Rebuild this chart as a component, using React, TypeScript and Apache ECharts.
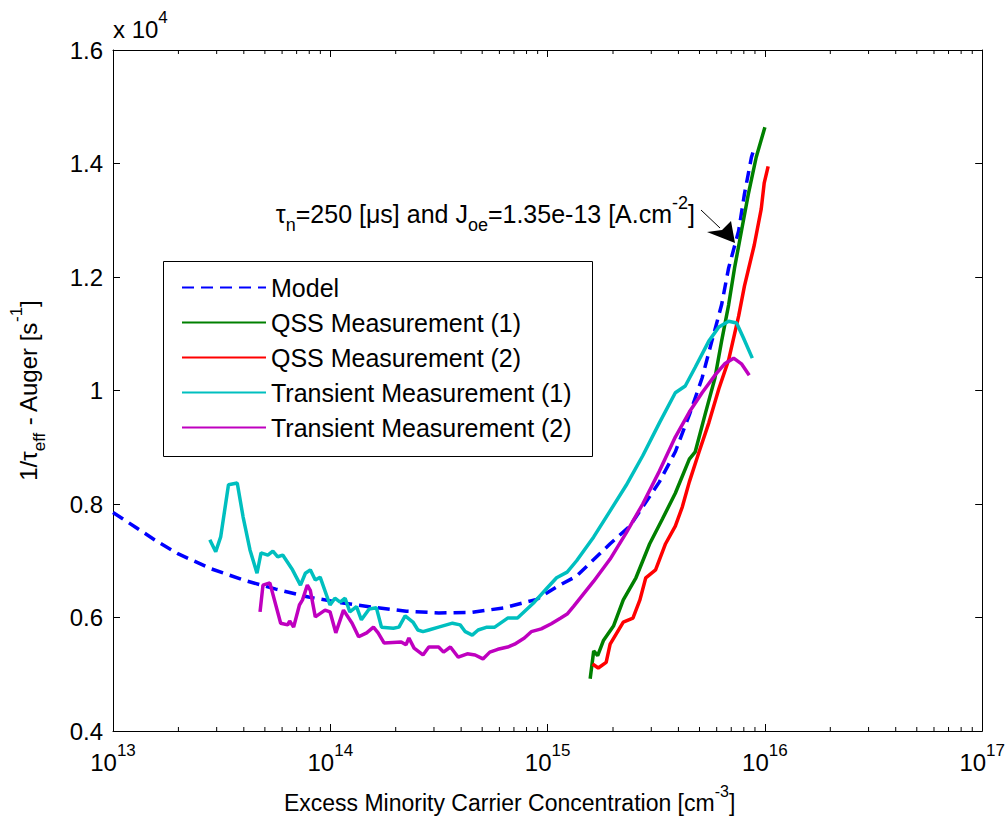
import React, { useEffect, useRef } from "react";
import * as echarts from "echarts";

const FONT = "'Liberation Sans', Arial, Helvetica, sans-serif";

// Excess minority carrier concentration [cm^-3] and 1/tau_eff - Auger [s^-1]
const modelN = [1.0e13, 1.26e13, 1.58e13, 2.0e13, 2.82e13, 3.98e13, 5.62e13, 7.94e13, 1.12e14, 1.58e14, 2.24e14, 3.16e14, 4.47e14, 6.31e14, 8.91e14, 1.1e15, 1.36e15, 1.94e15, 2.39e15, 2.74e15, 3.27e15, 3.87e15, 4.49e15, 5.14e15, 5.7e15, 6.32e15, 6.81e15, 7.57e15, 8.05e15, 8.67e15, 8.93e15];
const modelR = [7850, 7600, 7350, 7120, 6860, 6660, 6500, 6360, 6260, 6180, 6110, 6080, 6090, 6170, 6320, 6540, 6730, 7300, 7610, 7950, 8390, 8920, 9570, 10220, 10870, 11510, 12160, 12810, 13460, 14110, 14270];

const qss1N = [1.57e15, 1.63e15, 1.7e15, 1.81e15, 2.01e15, 2.23e15, 2.55e15, 2.95e15, 3.38e15, 3.87e15, 4.49e15, 4.78e15, 5.3e15, 5.89e15, 6.32e15, 6.81e15, 7.25e15, 7.8e15, 8.39e15, 9.12e15, 1.0e16];
const qss1R = [4920, 5410, 5330, 5600, 5850, 6310, 6700, 7300, 7740, 8190, 8790, 8920, 9570, 10220, 10870, 11510, 12160, 12810, 13460, 14110, 14640];

const qss2N = [1.61e15, 1.71e15, 1.86e15, 1.94e15, 2.23e15, 2.47e15, 2.66e15, 2.83e15, 3.14e15, 3.49e15, 3.87e15, 4.17e15, 4.49e15, 4.98e15, 5.52e15, 6.14e15, 6.81e15, 7.57e15, 8.05e15, 8.93e15, 9.62e15, 9.93e15, 1.035e16];
const qss2R = [5180, 5110, 5210, 5530, 5920, 5990, 6310, 6700, 6840, 7300, 7610, 7950, 8390, 8920, 9430, 10030, 10540, 11310, 11840, 12560, 13200, 13660, 13950];

const tr1N = [2.79e13, 2.97e13, 3.13e13, 3.4e13, 3.73e13, 3.97e13, 4.27e13, 4.6e13, 4.8e13, 5.16e13, 5.44e13, 5.73e13, 6.04e13, 6.7e13, 7.29e13, 7.68e13, 8.09e13, 8.53e13, 8.98e13, 9.97e13, 1.05e14, 1.11e14, 1.17e14, 1.23e14, 1.32e14, 1.39e14, 1.51e14, 1.63e14, 1.72e14, 1.95e14, 2.07e14, 2.21e14, 2.4e14, 2.53e14, 2.67e14, 2.84e14, 3.15e14, 3.65e14, 3.96e14, 4.18e14, 4.5e14, 4.79e14, 5.26e14, 5.71e14, 6.55e14, 7.27e14, 8.69e14, 9.95e14, 1.1e15, 1.23e15, 1.36e15, 1.63e15, 1.94e15, 2.3e15, 2.74e15, 3.27e15, 3.87e15, 4.3e15, 4.78e15, 5.52e15, 6.14e15, 6.81e15, 7.41e15, 7.96e15, 8.75e15];
const tr1R = [7370, 7160, 7420, 8340, 8370, 7770, 7190, 6780, 7140, 7100, 7170, 7070, 7100, 6840, 6570, 6780, 6840, 6660, 6710, 6220, 6340, 6270, 6340, 6100, 6190, 5960, 6150, 6170, 5830, 5810, 5830, 6030, 5920, 5780, 5750, 5780, 5830, 5900, 5870, 5750, 5690, 5780, 5830, 5830, 5990, 5990, 6270, 6520, 6700, 6800, 7000, 7420, 7880, 8330, 8850, 9430, 9960, 10080, 10410, 10870, 11120, 11220, 11190, 10930, 10570];

const tr2N = [4.75e13, 4.9e13, 5.27e13, 5.91e13, 6.37e13, 6.5e13, 6.78e13, 7.21e13, 7.45e13, 7.84e13, 8.09e13, 8.53e13, 9.46e13, 9.97e13, 1.06e14, 1.15e14, 1.26e14, 1.35e14, 1.47e14, 1.58e14, 1.66e14, 1.77e14, 2.12e14, 2.23e14, 2.3e14, 2.43e14, 2.67e14, 2.84e14, 3.15e14, 3.32e14, 3.57e14, 3.88e14, 4.27e14, 4.64e14, 5.04e14, 5.42e14, 5.9e14, 6.55e14, 7.05e14, 7.82e14, 8.41e14, 9.35e14, 1.04e15, 1.15e15, 1.23e15, 1.32e15, 1.63e15, 1.94e15, 2.3e15, 2.74e15, 3.27e15, 3.87e15, 4.49e15, 5.14e15, 5.89e15, 6.53e15, 7.18e15, 7.8e15, 8.47e15];
const tr2R = [6100, 6570, 6610, 5900, 5870, 5940, 5830, 6220, 6310, 6570, 6480, 6010, 6130, 6100, 5730, 6130, 5900, 5660, 5730, 5830, 5730, 5550, 5570, 5520, 5640, 5460, 5340, 5480, 5480, 5390, 5480, 5300, 5360, 5340, 5270, 5390, 5440, 5480, 5530, 5640, 5750, 5800, 5890, 5990, 6060, 6200, 6640, 7030, 7490, 8000, 8580, 9180, 9620, 9960, 10270, 10470, 10570, 10470, 10270];

const seriesNames = ["Model", "QSS Measurement (1)", "QSS Measurement (2)", "Transient Measurement (1)", "Transient Measurement (2)"];
const seriesColors = ["#0000FF", "#008000", "#FF0000", "#00BFBF", "#BF00BF"];

const xRange = [1e13, 1e17];
const yRange = [4000, 16000];
const yStep = 2000;

// logarithmic minor ticks: 2..9 times each decade
const decadeStarts = [1e13, 1e14, 1e15, 1e16];
const minorSteps = [2, 3, 4, 5, 6, 7, 8, 9];
const minorTickValues = decadeStarts.flatMap((d) => minorSteps.map((k) => d * k));

const pairs = (xs: number[], ys: number[]) => xs.map((x, i) => [x, ys[i]]);

const richMain = (size: number) => ({
  t: { fontSize: size, lineHeight: 40, color: "#000", fontFamily: FONT, verticalAlign: "middle" },
  s: { fontSize: Math.round(size * 0.7), lineHeight: 18, color: "#000", fontFamily: FONT, verticalAlign: "top" },
  d: { fontSize: Math.round(size * 0.7), lineHeight: 18, color: "#000", fontFamily: FONT, verticalAlign: "bottom" },
});

function buildOption(): echarts.EChartsCoreOption {
  const frameAxis = {
    axisLine: { show: true, onZero: false, lineStyle: { color: "#000", width: 1 } },
    splitLine: { show: false },
  };
  const logAxis = {
    type: "log",
    logBase: 10,
    min: xRange[0],
    max: xRange[1],
    ...frameAxis,
    axisTick: { show: true, inside: true, length: 7, lineStyle: { color: "#000" } },
  };
  const valAxis = {
    type: "value",
    min: yRange[0],
    max: yRange[1],
    interval: yStep,
    ...frameAxis,
    axisTick: { show: true, inside: true, length: 7, lineStyle: { color: "#000" } },
  };

  const lines = [pairs(modelN, modelR), pairs(qss1N, qss1R), pairs(qss2N, qss2R), pairs(tr1N, tr1R), pairs(tr2N, tr2R)];

  const lineSeries = lines.map((data, i) => ({
    name: seriesNames[i],
    type: "line",
    xAxisIndex: 0,
    yAxisIndex: 0,
    data,
    symbol: "none",
    showSymbol: false,
    smooth: false,
    color: seriesColors[i],
    lineStyle: { color: seriesColors[i], width: 3.5, type: i === 0 ? [12, 7] : "solid" },
    z: 2 + i,
  }));

  const minorTickSeries = {
    type: "custom",
    silent: true,
    xAxisIndex: 0,
    yAxisIndex: 0,
    clip: false,
    z: 10,
    data: minorTickValues.map((v) => [v, yRange[0]]),
    encode: { x: 0, y: 1 },
    renderItem: (_params: any, api: any) => {
      const v = api.value(0);
      const b = api.coord([v, yRange[0]]);
      const t = api.coord([v, yRange[1]]);
      return {
        type: "group",
        children: [
          { type: "line", shape: { x1: b[0], y1: b[1], x2: b[0], y2: b[1] - 4 }, style: { stroke: "#000", lineWidth: 1 } },
          { type: "line", shape: { x1: t[0], y1: t[1], x2: t[0], y2: t[1] + 4 }, style: { stroke: "#000", lineWidth: 1 } },
        ],
      };
    },
  };

  return {
    animation: false,
    backgroundColor: "#fff",
    textStyle: { fontFamily: FONT },
    grid: { left: 113, right: 14, top: 50, bottom: 91, containLabel: false },
    xAxis: [
      {
        ...logAxis,
        position: "bottom",
        axisLabel: {
          margin: 11,
          formatter: (v: number) => `{t|10}{s|${Math.round(Math.log10(v))}}`,
          rich: richMain(24),
        },
        name: "{t|Excess Minority Carrier Concentration [cm}{s|-3}{t|]}",
        nameLocation: "middle",
        nameGap: 52,
        nameTextStyle: { rich: richMain(23), padding: [0, 76, 0, 0] },
      },
      { ...logAxis, position: "top", axisLabel: { show: false } },
    ],
    yAxis: [
      {
        ...valAxis,
        position: "left",
        axisLabel: {
          margin: 10,
          color: "#000",
          fontSize: 24,
          fontFamily: FONT,
          formatter: (v: number) => String(Math.round(v / 1000) / 10),
        },
        name: "{t|1/τ}{d|eff}{t| - Auger [s}{s|-1}{t|]}",
        nameLocation: "middle",
        nameRotate: 90,
        nameGap: 65,
        nameTextStyle: { rich: richMain(24) },
      },
      { ...valAxis, position: "right", axisLabel: { show: false } },
    ],
    legend: {
      show: true,
      orient: "vertical",
      left: 181,
      top: 275,
      itemWidth: 84,
      itemHeight: 14,
      itemGap: 10,
      padding: 0,
      data: seriesNames,
      itemStyle: { opacity: 0 },
      textStyle: { fontSize: 25, lineHeight: 25, color: "#000", fontFamily: FONT },
    },
    graphic: [
      {
        type: "rect",
        z: 1,
        shape: { x: 163.5, y: 261.5, width: 429, height: 195 },
        style: { fill: "#fff", stroke: "#000", lineWidth: 1 },
      },
      {
        type: "text",
        left: 113,
        top: 9,
        style: { text: "{t|x 10}{s|4}", rich: richMain(24) },
      },
      {
        type: "text",
        right: 313,
        top: 194,
        style: { text: "{t|τ}{d|n}{t|=250 [μs] and J}{d|oe}{t|=1.35e-13 [A.cm}{s|-2}{t|]}", rich: richMain(25) },
      },
      {
        type: "line",
        shape: { x1: 701, y1: 210, x2: 720, y2: 228 },
        style: { stroke: "#000", lineWidth: 1 },
      },
      {
        type: "polygon",
        shape: { points: [[735, 243], [707, 232], [722, 230], [731, 221]] },
        style: { fill: "#000" },
      },
    ],
    series: [...lineSeries, minorTickSeries],
  };
}

export default function App() {
  const ref = useRef<HTMLDivElement>(null);
  useEffect(() => {
    if (!ref.current) return;
    const chart = echarts.init(ref.current, null, { renderer: "svg" });
    chart.setOption(buildOption());
    return () => chart.dispose();
  }, []);
  return (
    <div
      ref={ref}
      style={{ position: "fixed", left: 0, top: 0, width: 1008, height: 822, background: "#fff" }}
    />
  );
}
